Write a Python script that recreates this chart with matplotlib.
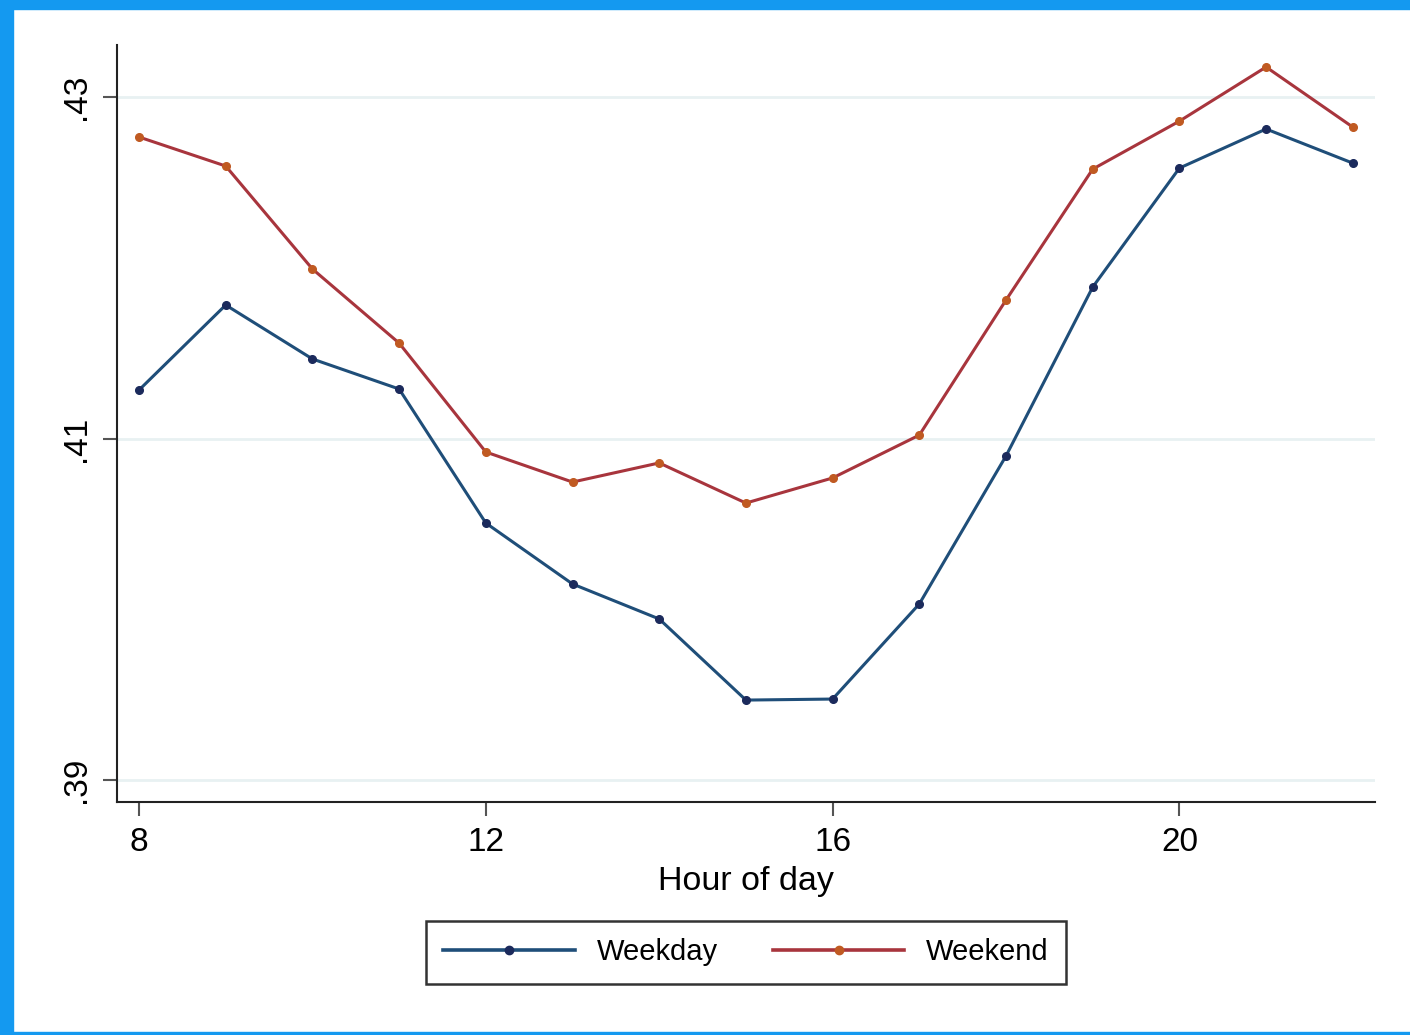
import numpy as np
import matplotlib
matplotlib.use('Agg')
import matplotlib.pyplot as plt
from matplotlib.patches import Rectangle
from matplotlib.lines import Line2D

plt.rcParams['font.family'] = ['Liberation Sans', 'DejaVu Sans']

hours = [8, 9, 10, 11, 12, 13, 14, 15, 16, 17, 18, 19, 20, 21, 22]
weekday = [0.41284, 0.41782, 0.41466, 0.41290, 0.40505, 0.40148, 0.39943, 0.39468,
           0.39474, 0.40031, 0.40898, 0.41887, 0.42584, 0.42813, 0.42613]
weekend = [0.42766, 0.42596, 0.41993, 0.41559, 0.40921, 0.40745, 0.40857, 0.40622,
           0.40769, 0.41020, 0.41811, 0.42578, 0.42859, 0.43176, 0.42824]
xticks = [8, 12, 16, 20]
yticks = [0.39, 0.41, 0.43]
ytick_labels = ['.39', '.41', '.43']

navy_line = '#1f4e79'
navy_mark = '#1b2a5c'
red_line = '#a8353d'
red_mark = '#c05a22'
frame_blue = '#1499f0'

fig = plt.figure(figsize=(14.1, 10.35), dpi=100)
# blue screenshot frame
fig.patches.append(Rectangle((0, 1 - 9 / 1035), 1, 9 / 1035, transform=fig.transFigure,
                             color=frame_blue, zorder=0))
fig.patches.append(Rectangle((0, 0), 13 / 1410, 1, transform=fig.transFigure,
                             color=frame_blue, zorder=0))
fig.patches.append(Rectangle((0, 0), 1, 3 / 1035, transform=fig.transFigure,
                             color=frame_blue, zorder=0))

ax = fig.add_axes([117 / 1410, 1 - 802 / 1035, (1375 - 117) / 1410, (802 - 45) / 1035])

ax.plot(hours, weekday, color=navy_line, lw=2.2, marker='o', ms=5.5,
        mfc=navy_mark, mec=navy_mark, zorder=3)
ax.plot(hours, weekend, color=red_line, lw=2.2, marker='o', ms=5.5,
        mfc=red_mark, mec=red_mark, zorder=3)

ax.set_xlim(7.746, 22.256)
ax.set_ylim(0.38871, 0.43305)
ax.set_xticks(xticks)
ax.set_yticks(yticks)
ax.set_yticklabels(ytick_labels, rotation=90, va='center')
for y in yticks:
    ax.axhline(y, color='#e8f1f2', lw=2, zorder=1)

for s in ['top', 'right']:
    ax.spines[s].set_visible(False)
for s in ['left', 'bottom']:
    ax.spines[s].set_linewidth(1.5)
    ax.spines[s].set_color('#222222')
ax.tick_params(axis='both', length=10, width=1.5, color='#555555', labelsize=24, pad=8)
ax.set_xlabel('Hour of day', fontsize=24.5, labelpad=6)

handles = [Line2D([], [], color=navy_line, lw=2.6, marker='o', ms=6, mfc=navy_mark, mec=navy_mark),
           Line2D([], [], color=red_line, lw=2.6, marker='o', ms=6, mfc=red_mark, mec=red_mark)]
leg = fig.legend(handles, ['Weekday', 'Weekend'], loc='center', ncol=2,
                 bbox_to_anchor=(746 / 1410, 1 - 952 / 1035), fontsize=21,
                 frameon=True, fancybox=False, edgecolor='black', handlelength=4.5,
                 handletextpad=0.75, columnspacing=1.9, borderpad=0.6, markerscale=1)
leg.get_frame().set_linewidth(1.8)

fig.savefig('out.png', dpi=100)
